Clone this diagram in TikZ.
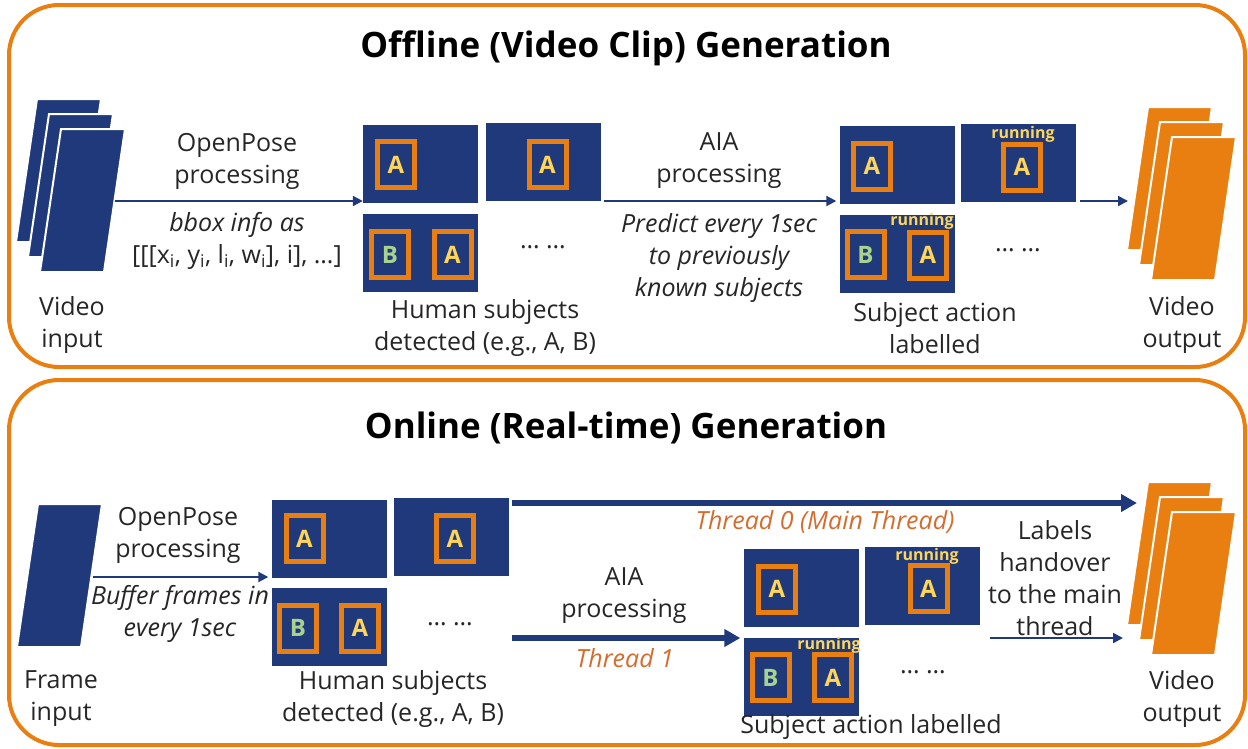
\documentclass[tikz,border=0pt]{standalone}
\usepackage{fontspec}
\setmainfont{Open Sans}
\usetikzlibrary{arrows.meta}

\definecolor{dblue}{RGB}{31,57,122}
\definecolor{orng}{RGB}{233,127,17}
\definecolor{ylw}{RGB}{255,214,90}
\definecolor{grn}{RGB}{168,210,142}
\definecolor{thr}{RGB}{212,108,45}
\definecolor{txt}{RGB}{38,38,38}

% stack of frames, front top-left corner at (#1,#2)
\newcommand{\framestack}[4]{%
  \foreach \k in {#4,...,0}
    \filldraw[fill=#3, draw=white, line width=2pt]
      (#1-12*\k, #2-15*\k) -- ++(64,0) -- ++(-21,143) -- ++(-64,0) -- cycle;
}

\begin{document}
\begin{tikzpicture}[x=1pt, y=-1pt,
    frame/.style = {fill=dblue, minimum width=115pt, minimum height=78pt, inner sep=0pt},
    bbox/.style = {draw=orng, line width=5pt, minimum width=37pt, minimum height=46pt,
                   inner sep=0pt, text=ylw, font=\fontsize{24}{24}\selectfont\bfseries},
    run/.style = {text=ylw, inner sep=0pt, font=\fontsize{16}{16}\selectfont\bfseries},
    lbl/.style = {text=txt, align=center, inner sep=0pt, font=\fontsize{25}{32}\selectfont},
    ilbl/.style = {lbl, font=\fontsize{25}{32}\selectfont\itshape},
    title/.style = {text=black, inner sep=0pt, font=\fontsize{35}{40}\selectfont\bfseries},
    arr/.style = {dblue, line width=2pt, -{Triangle[length=10pt, width=10pt]}},
    thick arr/.style = {dblue, line width=5.5pt, -{Triangle[length=16pt, width=17pt]}},
  ]
  \useasboundingbox (0,0) rectangle (1248,748);

  \draw[orng, line width=4pt, rounded corners=50pt] (9,5) rectangle (1245,367);
  \draw[orng, line width=4pt, rounded corners=50pt] (9,380) rectangle (1245,745);

  %%% offline
  \node[title] (t1) at (626,48) {Offline (Video Clip) Generation};

  \framestack{61}{129}{dblue}{2}
  \framestack{1172}{137}{orng}{2}
  \node[lbl] (vin) at (72,325) {Video\\input};
  \node[lbl] (vout) at (1182,325) {Video\\output};

  \node[frame] (o1) at (420.5,163.5) {};
  \node[frame] (o2) at (543,161.5) {};
  \node[frame] (o3) at (420.5,252.5) {};
  \node[bbox] (o1a) at (396,164.5) {A};
  \node[bbox] (o2a) at (547.5,164.5) {A};
  \node[bbox, text=grn] (o3b) at (390,254.5) {B};
  \node[bbox] (o3a) at (452.5,254.5) {A};
  \node[lbl] (odots) at (543,247) {… …};

  \node[frame] (p1) at (897,164.5) {};
  \node[frame] (p2) at (1018.5,162.5) {};
  \node[frame] (p3) at (897,253.5) {};
  \node[bbox] (p1a) at (872,166) {A};
  \node[bbox] (p2a) at (1022,167) {A};
  \node[bbox, text=grn] (p3b) at (865.5,254.5) {B};
  \node[bbox] (p3a) at (928,255) {A};
  \node[run] (p2r) at (1023,134) {running};
  \node[run] (p3r) at (922,221) {running};
  \node[lbl] (pdots) at (1018,250) {… …};

  \node[lbl] (op1) at (237,161) {OpenPose\\processing};
  \node[ilbl] (bb1) at (237,241) {bbox info as\\
    \normalfont[[[x\textsubscript{i}, y\textsubscript{i}, l\textsubscript{i}, w\textsubscript{i}], i], …]};
  \node[lbl] (hs1) at (485,328) {Human subjects\\detected (e.g., A, B)};
  \node[lbl] (aia1) at (719,161) {AIA\\processing};
  \node[ilbl] (pr1) at (719,258) {Predict every 1sec\\to previously\\known subjects};
  \node[lbl] (sa1) at (935,328) {Subject action\\labelled};

  \coordinate (a1) at (115,201);
  \coordinate (a2) at (604,201);
  \coordinate (a3) at (1080,201);
  \coordinate (a4) at (1128,201);
  \draw[arr] (a1) -- (a1 -| o1.west);
  \draw[arr] (a2) -- ([xshift=-3pt]a2 -| p1.west);
  \draw[arr] (a3) -- (a4);

  %%% online
  \node[title] (t2) at (626,428) {Online (Real-time) Generation};

  \framestack{38}{504}{dblue}{0}
  \framestack{1172}{512}{orng}{2}
  \node[lbl] (fin) at (61,699) {Frame\\input};
  \node[lbl] (vout2) at (1182,699) {Video\\output};

  \node[frame] (q1) at (329,538.5) {};
  \node[frame] (q2) at (451,537) {};
  \node[frame] (q3) at (329,627) {};
  \node[bbox] (q1a) at (304.5,538.5) {A};
  \node[bbox] (q2a) at (455,538.5) {A};
  \node[bbox, text=grn] (q3b) at (298,628) {B};
  \node[bbox] (q3a) at (360,628) {A};
  \node[lbl] (qdots) at (450,624) {… …};

  \node[frame] (r1) at (801,587.5) {};
  \node[frame] (r2) at (922,586) {};
  \node[frame] (r3) at (801,676.5) {};
  \node[bbox] (r1a) at (777,589) {A};
  \node[bbox] (r2a) at (928.5,588.5) {A};
  \node[bbox, text=grn] (r3b) at (770.5,677.5) {B};
  \node[bbox] (r3a) at (833,677.5) {A};
  \node[run] (r2r) at (927,556) {running};
  \node[run] (r3r) at (829,645) {running};
  \node[lbl] (rdots) at (923,672) {… …};

  \node[lbl] (op2) at (178,535) {OpenPose\\processing};
  \node[ilbl] (buf) at (180,614) {Buffer frames in\\every 1sec};
  \node[lbl] (hs2) at (393,699) {Human subjects\\detected (e.g., A, B)};
  \node[lbl] (aia2) at (624,596) {AIA\\processing};
  \node[ilbl, text=thr] (th0) at (825,522) {Thread 0 (Main Thread)};
  \node[ilbl, text=thr] (th1) at (625,658) {Thread 1};
  \node[lbl] (sa2) at (871,727) {Subject action labelled};
  \node[lbl] (hand) at (1055,578) {Labels\\handover\\to the main\\thread};

  \coordinate (b1) at (93,577);
  \coordinate (b2) at (512,503);
  \coordinate (b3) at (1137,503);
  \coordinate (b4) at (512,638);
  \coordinate (b5) at (990,638);
  \coordinate (b6) at (1123,638);
  \draw[arr] (b1) -- ([xshift=-3pt]b1 -| q1.west);
  \draw[thick arr] (b2) -- (b3);
  \draw[thick arr] (b4) -- ([xshift=-3pt]b4 -| r3.west);
  \draw[arr] (b5) -- (b6);

\end{tikzpicture}
\end{document}
